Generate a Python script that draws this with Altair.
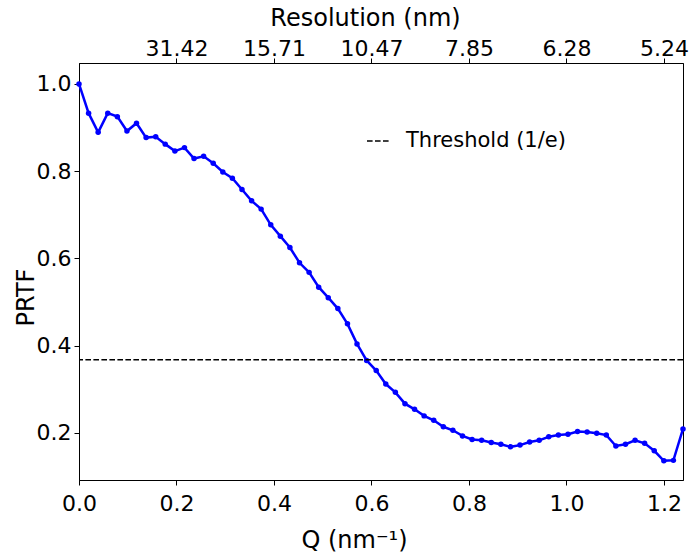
import altair as alt
import pandas as pd

# ---- data ----
q_values = [
    0.0000, 0.0197, 0.0393, 0.0590, 0.0787, 0.0984, 0.1180, 0.1377,
    0.1574, 0.1770, 0.1967, 0.2164, 0.2360, 0.2557, 0.2754, 0.2951,
    0.3147, 0.3344, 0.3541, 0.3737, 0.3934, 0.4131, 0.4327, 0.4524,
    0.4721, 0.4918, 0.5114, 0.5311, 0.5508, 0.5704, 0.5901, 0.6098,
    0.6294, 0.6491, 0.6688, 0.6885, 0.7081, 0.7278, 0.7475, 0.7671,
    0.7868, 0.8065, 0.8261, 0.8458, 0.8655, 0.8852, 0.9048, 0.9245,
    0.9442, 0.9638, 0.9835, 1.0032, 1.0228, 1.0425, 1.0622, 1.0819,
    1.1015, 1.1212, 1.1409, 1.1605, 1.1802, 1.1999, 1.2195, 1.2392,
]
prtf_values = [
    1.000, 0.933, 0.889, 0.933, 0.925, 0.892, 0.910, 0.877,
    0.879, 0.862, 0.846, 0.854, 0.829, 0.834, 0.818, 0.798,
    0.784, 0.758, 0.732, 0.713, 0.677, 0.651, 0.625, 0.590,
    0.568, 0.534, 0.510, 0.485, 0.450, 0.404, 0.366, 0.343,
    0.312, 0.293, 0.267, 0.254, 0.239, 0.229, 0.214, 0.206,
    0.193, 0.185, 0.183, 0.178, 0.174, 0.168, 0.172, 0.179,
    0.183, 0.191, 0.195, 0.197, 0.203, 0.202, 0.199, 0.195,
    0.170, 0.174, 0.183, 0.176, 0.159, 0.136, 0.137, 0.209,
]
threshold_value = [0.3679]
threshold_label = ["Threshold (1/e)"]

bottom_ticks = [0.0, 0.2, 0.4, 0.6, 0.8, 1.0, 1.2]
left_ticks = [0.2, 0.4, 0.6, 0.8, 1.0]
top_ticks = [0.2, 0.4, 0.6, 0.8, 1.0, 1.2]
top_labels = ["31.42", "15.71", "10.47", "7.85", "6.28", "5.24"]

df = pd.DataFrame({"Q": q_values, "PRTF": prtf_values})
thr_df = pd.DataFrame({"y": threshold_value, "label": threshold_label})

FONT = "DejaVu Sans"
xscale = alt.Scale(domain=[0, 1.2392], nice=False, zero=False)
yscale = alt.Scale(domain=[0.092, 1.048], nice=False, zero=False)

label_arr = "[" + ",".join("'" + s + "'" for s in top_labels) + "]"
top_expr = label_arr + "[round(datum.value*5)-1]"

common = dict(
    grid=False, domainColor="black", domainWidth=1, tickColor="black",
    tickWidth=1, labelColor="black", titleColor="black", labelFont=FONT,
    titleFont=FONT, titleFontWeight="normal", labelFlush=False,
)

bottom_axis = alt.Axis(
    orient="bottom", values=bottom_ticks, format=".1f", title="Q (nm⁻¹)",
    tickSize=5, labelPadding=8, labelFontSize=22, titleFontSize=24,
    titleX=275, titleY=67, titleAlign="center", titleBaseline="alphabetic",
    **common,
)
left_axis = alt.Axis(
    orient="left", values=left_ticks, format=".1f", title="PRTF",
    tickSize=5, labelPadding=3, labelFontSize=22, titleFontSize=24,
    titleX=-46, titleY=234, titleAlign="center", titleBaseline="alphabetic",
    titleAngle=270, **common,
)
top_axis = alt.Axis(
    orient="top", values=top_ticks, labelExpr=top_expr, title="Resolution (nm)",
    tickSize=5, labelPadding=3, labelBaseline="alphabetic", labelFontSize=22,
    titleFontSize=24, titleX=286, titleY=-38, titleAlign="center",
    titleBaseline="alphabetic", **common,
)

line = alt.Chart(df).mark_line(
    color="#0000ff", strokeWidth=2.5,
    point=alt.OverlayMarkDef(filled=True, size=30, color="#0000ff"),
).encode(
    x=alt.X("Q:Q", scale=xscale, axis=bottom_axis),
    y=alt.Y("PRTF:Q", scale=yscale, axis=left_axis),
)

rule = alt.Chart(thr_df).mark_rule(color="black", strokeWidth=1.5).encode(
    y=alt.Y("y:Q", scale=yscale, axis=left_axis),
    strokeDash=alt.StrokeDash(
        "label:N",
        scale=alt.Scale(domain=threshold_label, range=[[5.6, 2.4]]),
        legend=alt.Legend(
            orient="none", legendX=287, legendY=65, title=None,
            symbolType="stroke", symbolSize=576, symbolStrokeWidth=1.5,
            symbolStrokeColor="black", labelFontSize=21, labelFont=FONT,
            labelOffset=14, padding=0, labelColor="black",
        ),
    ),
)

top = alt.Chart(df).mark_point(opacity=0).encode(
    x=alt.X("Q:Q", scale=xscale, axis=top_axis),
    y=alt.Y("PRTF:Q", scale=yscale, axis=left_axis),
)

chart = alt.layer(line, rule, top).resolve_axis(x="independent").properties(
    width=604, height=417,
    background="white",
    autosize=alt.AutoSizeParams(type="none"),
    padding={"left": 79, "top": 63, "right": 9, "bottom": 79},
).configure_view(
    stroke="black", strokeWidth=1,
).configure_axis(**common)

chart.save("out.html", embed_options={"renderer": "svg", "actions": False})
